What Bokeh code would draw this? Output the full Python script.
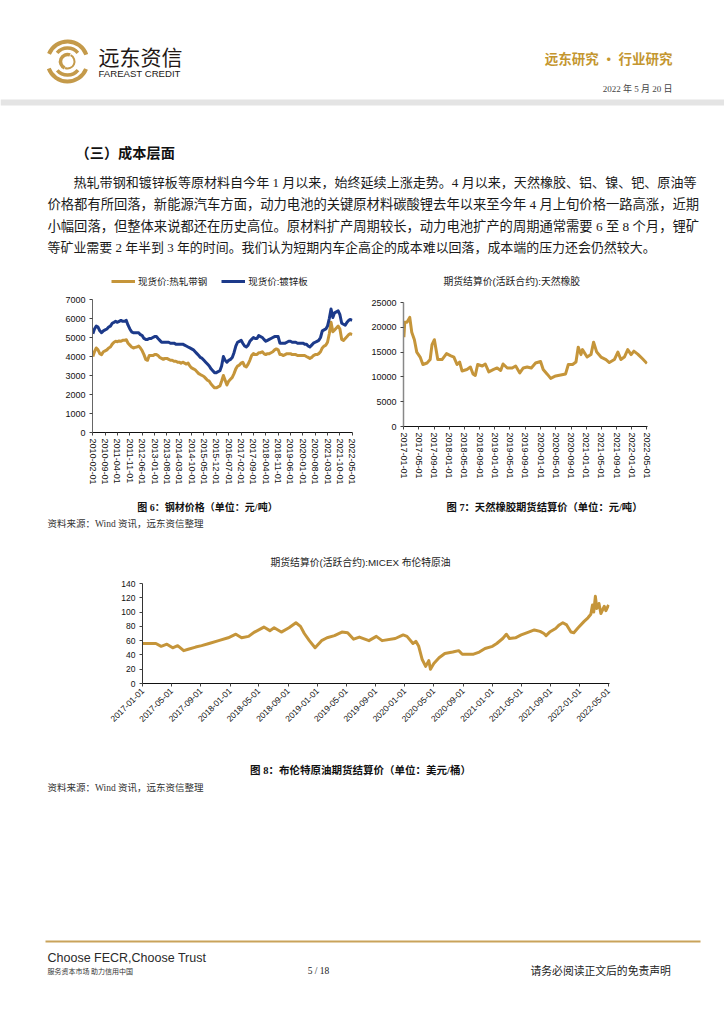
import math
import pandas as pd
from bokeh.plotting import figure
from bokeh.models import (Range1d, FixedTicker, DatetimeTickFormatter, Legend,
                          LegendItem, ColumnDataSource)
from bokeh.layouts import column, row
from bokeh.core.properties import value
from bokeh.embed import file_html
from bokeh.resources import INLINE

# ---------------- DATA ----------------
steel_start = "2010-02-01"   # monthly observations from this month
hrc_values = [
    4000, 4250, 4450, 4350, 4150, 4100, 4250, 4300, 4350, 4450, 4500,
    4650, 4750, 4800, 4780, 4820, 4800, 4850, 4850, 4880, 4700, 4600, 4500,
    4450, 4480, 4500, 4550, 4450, 4300, 4100, 3850, 3800, 4050, 4050, 4050,
    4100, 4100, 4050, 3950, 3900, 3850, 3900, 3900, 3850, 3800, 3800, 3750,
    3750, 3700, 3700, 3650, 3700, 3650, 3600, 3650, 3500, 3400, 3350, 3300,
    3200, 3100, 3050, 3000, 2950, 2850, 2750, 2700, 2550, 2450, 2350, 2350,
    2400, 2450, 2700, 3000, 2750, 2500, 2700, 2800, 2900, 3100, 3350, 3500,
    3550, 3650, 3700, 3500, 3450, 3600, 3800, 4050, 4150, 4100, 4100, 4200,
    4200, 4250, 4150, 4100, 4150, 4150, 4200, 4250, 4350, 4400, 4350, 4100,
    4100, 4050, 4100, 4150, 4150, 4150, 4100, 4100, 4100, 4050, 4050, 4050,
    4050, 4050, 4000, 3950, 3900, 3950, 4050, 4100, 4100, 4150, 4250, 4450,
    4550, 4600, 4750, 5200, 5800, 5300, 5400, 5500, 5600, 5450, 4900, 4850,
    4950, 5050, 5150, 5200, 5150]
galv_values = [
    5200, 5450, 5600, 5550, 5350, 5250, 5350, 5400, 5450, 5550, 5600,
    5750, 5800, 5850, 5800, 5850, 5900, 5850, 5850, 5900, 5650, 5450, 5300,
    5250, 5250, 5250, 5250, 5150, 5100, 4950, 4900, 4900, 4950, 4950, 5000,
    5050, 5050, 4950, 4850, 4750, 4750, 4750, 4750, 4750, 4700, 4700, 4700,
    4650, 4650, 4650, 4650, 4650, 4600, 4550, 4500, 4450, 4400, 4350, 4250,
    4150, 4050, 3950, 3900, 3800, 3700, 3600, 3500, 3350, 3250, 3150, 3150,
    3200, 3250, 3500, 4000, 3800, 3700, 3800, 3850, 3950, 4200, 4550, 4750,
    4800, 4850, 4700, 4550, 4500, 4600, 4800, 4900, 5000, 4950, 4950, 5100,
    5050, 5000, 4900, 4800, 4850, 4900, 4950, 5000, 5050, 5050, 5050, 4700,
    4700, 4700, 4700, 4750, 4800, 4800, 4750, 4750, 4750, 4700, 4700, 4700,
    4700, 4650, 4650, 4550, 4500, 4600, 4700, 4750, 4800, 4850, 5000, 5350,
    5400, 5450, 5600, 6000, 6500, 6050, 6300, 6350, 6400, 6200, 5750, 5700,
    5650, 5800, 5900, 5950, 5900]
steel_ticks = ["2010-02-01", "2010-09-01", "2011-04-01", "2011-11-01", "2012-06-01",
               "2013-01-01", "2013-08-01", "2014-03-01", "2014-10-01", "2015-05-01",
               "2015-12-01", "2016-07-01", "2017-02-01", "2017-09-01", "2018-04-01",
               "2018-11-01", "2019-06-01", "2020-01-01", "2020-08-01", "2021-03-01",
               "2021-10-01", "2022-05-01"]
steel_yticks = [0, 1000, 2000, 3000, 4000, 5000, 6000, 7000]
steel_labels = ["现货价:热轧带钢", "现货价:镀锌板"]

rubber_title = "期货结算价(活跃合约):天然橡胶"
rubber_dates = ["2017-01-03", "2017-01-10", "2017-01-28", "2017-02-19", "2017-03-07",
                "2017-03-28", "2017-04-16", "2017-05-13", "2017-06-04", "2017-07-07",
                "2017-08-01", "2017-08-16", "2017-09-04", "2017-10-01", "2017-11-04",
                "2017-12-10", "2018-01-10", "2018-02-07", "2018-03-04", "2018-03-25",
                "2018-04-13", "2018-05-22", "2018-06-19", "2018-07-10", "2018-07-28",
                "2018-08-16", "2018-09-22", "2018-10-16", "2018-11-13", "2018-12-22",
                "2019-01-19", "2019-02-16", "2019-03-07", "2019-04-10", "2019-05-19",
                "2019-06-16", "2019-07-19", "2019-08-16", "2019-09-16", "2019-10-19",
                "2019-11-22", "2020-01-01", "2020-01-22", "2020-02-25", "2020-03-22",
                "2020-05-01", "2020-06-10", "2020-07-19", "2020-08-10", "2020-09-13",
                "2020-10-10", "2020-10-28", "2020-11-19", "2020-12-01", "2021-01-07",
                "2021-02-07", "2021-02-28", "2021-03-25", "2021-04-28", "2021-06-07",
                "2021-07-04", "2021-08-13", "2021-09-10", "2021-10-04", "2021-11-01",
                "2021-11-28", "2021-12-25", "2022-01-16", "2022-02-16", "2022-03-28",
                "2022-05-01"]
rubber_values = [18000, 21000, 21000, 22000, 19000, 17500, 15000, 14000, 12500, 12800,
                 13500, 16500, 17500, 13500, 13500, 14700, 14300, 14000, 12500, 13000,
                 11200, 11500, 12000, 10600, 10300, 12500, 12200, 12600, 11000, 11500,
                 11800, 11300, 12600, 11800, 11800, 12200, 10800, 11800, 12000, 11800,
                 12800, 13100, 11500, 10500, 9700, 10200, 10400, 10600, 12500, 12500,
                 13000, 16000, 14500, 15500, 14000, 14500, 17000, 15000, 14000, 13500,
                 12900, 13500, 15000, 13500, 14000, 15500, 14500, 15200, 14600, 13600,
                 12700]
rubber_ticks = ["2017-01-01", "2017-05-01", "2017-09-01", "2018-01-01", "2018-05-01",
                "2018-09-01", "2019-01-01", "2019-05-01", "2019-09-01", "2020-01-01",
                "2020-05-01", "2020-09-01", "2021-01-01", "2021-05-01", "2021-09-01",
                "2022-01-01", "2022-05-01"]
rubber_yticks = [0, 5000, 10000, 15000, 20000, 25000]

brent_title = "期货结算价(活跃合约):MICEX 布伦特原油"
brent_dates = ["2017-01-01", "2017-02-25", "2017-03-19", "2017-04-12", "2017-05-06",
               "2017-05-27", "2017-06-21", "2017-07-10", "2017-08-10", "2017-09-04",
               "2017-10-05", "2017-11-14", "2017-12-24", "2018-01-25", "2018-02-18",
               "2018-03-19", "2018-04-13", "2018-05-22", "2018-06-16", "2018-07-04",
               "2018-08-03", "2018-09-04", "2018-10-03", "2018-10-22", "2018-11-07",
               "2018-11-28", "2018-12-22", "2019-01-18", "2019-02-10", "2019-03-13",
               "2019-04-13", "2019-05-07", "2019-06-01", "2019-06-25", "2019-08-04",
               "2019-09-04", "2019-09-28", "2019-11-22", "2019-12-25", "2020-01-10",
               "2020-02-04", "2020-02-16", "2020-02-28", "2020-03-13", "2020-03-28",
               "2020-04-10", "2020-04-17", "2020-05-01", "2020-05-23", "2020-06-16",
               "2020-07-19", "2020-08-13", "2020-08-28", "2020-10-14", "2020-11-07",
               "2020-12-01", "2021-01-01", "2021-01-19", "2021-02-13", "2021-02-28",
               "2021-03-13", "2021-04-07", "2021-05-01", "2021-06-01", "2021-06-25",
               "2021-07-19", "2021-08-04", "2021-08-13", "2021-08-28", "2021-09-22",
               "2021-10-07", "2021-10-22", "2021-11-07", "2021-11-25", "2021-12-07",
               "2021-12-25", "2022-01-19", "2022-02-04", "2022-02-16", "2022-02-23",
               "2022-02-28", "2022-03-07", "2022-03-13", "2022-03-22", "2022-03-30",
               "2022-04-13", "2022-04-20", "2022-05-01"]
brent_values = [56, 56, 52, 55, 50, 53, 46, 48, 51, 53,
                56, 60, 64, 69, 64, 66, 72, 79, 74, 78,
                72, 78, 85, 80, 70, 60, 50, 60, 64, 67,
                72, 71, 62, 65, 60, 66, 60, 63, 68, 66,
                56, 59, 52, 34, 24, 32, 20, 28, 36, 42,
                44, 46, 41, 41, 44, 49, 52, 56, 63, 69,
                63, 64, 68, 72, 75, 73, 70, 67, 72, 77,
                82, 85, 82, 72, 71, 78, 87, 92, 97, 110,
                100, 122, 105, 112, 98, 108, 102, 110]
brent_ticks = rubber_ticks
brent_yticks = [0, 20, 40, 60, 80, 100, 120, 140]

para_lines = [
    "热轧带钢和镀锌板等原材料自今年 1 月以来，始终延续上涨走势。4 月以来，天然橡胶、铝、镍、钯、原油等",
    "价格都有所回落，新能源汽车方面，动力电池的关键原材料碳酸锂去年以来至今年 4 月上旬价格一路高涨，近期",
    "小幅回落，但整体来说都还在历史高位。原材料扩产周期较长，动力电池扩产的周期通常需要 6 至 8 个月，锂矿",
    "等矿业需要 2 年半到 3 年的时间。我们认为短期内车企高企的成本难以回落，成本端的压力还会仍然较大。",
]

# ---------------- STYLE ----------------
GOLD = "#C5953A"
BLUE = "#1C3A8A"
LOGO_GOLD = "#C49A4A"
CJK = "Noto Sans CJK SC"
SANS = "'Liberation Sans', 'Noto Sans CJK SC'"
SERIF = "'Liberation Serif', 'Noto Sans CJK SC'"
PAGE_W = 724
NAN = float("nan")


def ms(s):
    return pd.Timestamp(s).value / 1e6


def put(f, x, y, s, size, font=CJK, color="#1a1a1a", bold=False, align="left"):
    f.text(x=[x], y=[y], text=[s], text_font=value(font),
           text_font_size=value(f"{size}px"),
           text_font_style="bold" if bold else "normal",
           text_color=color, text_align=align, text_baseline="middle")


def band(y0, y1, x0=0, x1=PAGE_W):
    f = figure(width=x1 - x0, height=y1 - y0, x_range=Range1d(x0, x1),
               y_range=Range1d(y1, y0), output_backend="svg",
               toolbar_location=None, tools="", min_border=0,
               x_axis_location=None, y_axis_location=None, frame_align=False)
    f.grid.visible = False
    f.outline_line_color = None
    f.background_fill_color = "white"
    f.border_fill_color = "white"
    return f


def fmt():
    s = "%Y-%m-%d"
    return DatetimeTickFormatter(milliseconds=s, seconds=s, minsec=s, minutes=s,
                                 hourmin=s, hours=s, days=s, months=s, years=s)


def style_chart(c, xticks, yticks, orient, fsize, ycolor, ywidth):
    c.grid.visible = False
    c.outline_line_color = None
    c.background_fill_color = "white"
    c.border_fill_color = "white"
    c.xaxis.ticker = FixedTicker(ticks=[ms(t) for t in xticks])
    c.xaxis.formatter = fmt()
    c.yaxis.ticker = FixedTicker(ticks=yticks)
    c.xaxis.major_label_orientation = orient
    for ax in c.axis:
        ax.major_tick_in = 0
        ax.major_tick_out = 3
        ax.minor_tick_in = 0
        ax.minor_tick_out = 0
        ax.major_label_text_font = SANS
        ax.major_label_text_font_size = f"{fsize}px"
        ax.major_label_text_color = "#111111"
        ax.major_tick_line_color = "#444444"
    c.xaxis.axis_line_color = "#111111"
    c.xaxis.major_label_standoff = 3
    c.yaxis.axis_line_color = ycolor
    c.yaxis.axis_line_width = ywidth
    c.yaxis.major_label_standoff = 4


# ---------------- BAND A: header + text ----------------
A = band(0, 268)
A.quad(left=[0], right=[PAGE_W], top=[99], bottom=[105], fill_color="#E4E4E4", line_color=None)
# logo
A.arc(x=[67], y=[61], radius=20, start_angle=0.35, end_angle=2.75, line_color=LOGO_GOLD, line_width=4)
A.arc(x=[67], y=[61], radius=20, start_angle=3.5, end_angle=5.9, line_color=LOGO_GOLD, line_width=4)
A.arc(x=[67], y=[61], radius=13.5, start_angle=0.7, end_angle=2.45, line_color=LOGO_GOLD, line_width=3.5)
A.arc(x=[67], y=[61], radius=13.5, start_angle=3.85, end_angle=5.6, line_color=LOGO_GOLD, line_width=3.5)
A.arc(x=[67], y=[61], radius=7, start_angle=1.2, end_angle=4.3, line_color=LOGO_GOLD, line_width=3.5)
A.arc(x=[67], y=[61], radius=7, start_angle=4.35, end_angle=7.4, line_color=LOGO_GOLD, line_width=2)
put(A, 98, 55, "远东资信", 21, CJK, "#231815")
put(A, 98, 73, "FAREAST CREDIT", 9.6, "'Liberation Sans'", "#231815")
put(A, 672, 57, "远东研究 • 行业研究", 13.5, CJK, "#C4962F", bold=True, align="right")
put(A, 672, 88, "2022 年 5 月 20 日", 9, SERIF, "#444444", align="right")
put(A, 75, 151, "（三）成本层面", 14.2, CJK, "#111111", bold=True)
para_x = [73, 47, 47, 47]
para_y = [182, 204, 226, 247]
para_size = [13.05, 13.3, 13.3, 12.95]
for s, x, y, z in zip(para_lines, para_x, para_y, para_size):
    put(A, x, y, s, z, SERIF, "#1a1a1a")

# ---------------- Chart 1: steel ----------------
steel_dates = pd.date_range(steel_start, periods=len(hrc_values), freq="MS")
src1 = ColumnDataSource(dict(d=steel_dates, hrc=hrc_values, galv=galv_values))
c1 = figure(width=362, height=205, x_axis_type="datetime",
            x_range=Range1d(ms("2010-01-26"), ms("2022-05-06")),
            y_range=Range1d(0, 7000), output_backend="svg",
            toolbar_location=None, tools="", frame_align=False,
            min_border_left=92, min_border_right=10,
            min_border_top=6, min_border_bottom=66)
c1.line("d", "hrc", source=src1, line_color=GOLD, line_width=3, line_join="round")
c1.line("d", "galv", source=src1, line_color=BLUE, line_width=3, line_join="round")
style_chart(c1, steel_ticks, steel_yticks, "vertical", 9, "#666666", 1)

# legend strip above chart 1 (a real legend with the same line styles)
L = band(268, 293, 0, 362)
lg1 = L.line(x=[NAN], y=[NAN], line_color=GOLD, line_width=3)
lg2 = L.line(x=[NAN], y=[NAN], line_color=BLUE, line_width=3)
leg = Legend(items=[LegendItem(label=steel_labels[0], renderers=[lg1]),
                    LegendItem(label=steel_labels[1], renderers=[lg2])],
             orientation="horizontal", location=(111, 5),
             label_text_font=SANS, label_text_font_size="9.5px",
             label_text_color="#222222", glyph_width=24, glyph_height=10,
             label_standoff=3, spacing=14, padding=2, margin=0,
             border_line_color=None, background_fill_alpha=0)
L.add_layout(leg)

# ---------------- Chart 2: rubber ----------------
T2 = band(268, 296, 362, PAGE_W)
put(T2, 443, 281, rubber_title, 9.8, SANS, "#222222")
src2 = ColumnDataSource(dict(d=pd.to_datetime(rubber_dates), v=rubber_values))
c2 = figure(width=362, height=202, x_axis_type="datetime",
            x_range=Range1d(ms("2016-12-31"), ms("2022-05-05")),
            y_range=Range1d(0, 25000), output_backend="svg",
            toolbar_location=None, tools="", frame_align=False,
            min_border_left=41, min_border_right=77,
            min_border_top=6, min_border_bottom=72)
c2.line("d", "v", source=src2, line_color=GOLD, line_width=3, line_join="round")
style_chart(c2, rubber_ticks, rubber_yticks, "vertical", 9, "#888888", 1.5)

# ---------------- BAND C: captions ----------------
C = band(498, 540)
put(C, 207, 507, "图 6：钢材价格（单位：元/吨）", 10, SERIF, "#111111", bold=True, align="center")
put(C, 544, 507, "图 7：天然橡胶期货结算价（单位：元/吨）", 10.3, SERIF, "#111111", bold=True, align="center")
put(C, 47, 523, "资料来源：Wind 资讯，远东资信整理", 9.5, SERIF, "#333333")

# ---------------- Chart 3: brent ----------------
T3 = band(540, 577)
put(T3, 270, 562, brent_title, 9.8, SANS, "#222222")
src3 = ColumnDataSource(dict(d=pd.to_datetime(brent_dates), v=brent_values))
c3 = figure(width=PAGE_W, height=173, x_axis_type="datetime",
            x_range=Range1d(ms("2016-12-31"), ms("2022-05-05")),
            y_range=Range1d(0, 140), output_backend="svg",
            toolbar_location=None, tools="", frame_align=False,
            min_border_left=142, min_border_right=115,
            min_border_top=6, min_border_bottom=67)
c3.line("d", "v", source=src3, line_color=GOLD, line_width=3, line_join="round")
style_chart(c3, brent_ticks, brent_yticks, math.pi / 4, 8.5, "#333333", 1)

# ---------------- BAND E ----------------
E = band(750, 800)
put(E, 360, 770, "图 8：布伦特原油期货结算价（单位：美元/桶）", 10.5, SERIF, "#111111", bold=True, align="center")
put(E, 47, 787, "资料来源：Wind 资讯，远东资信整理", 9.5, SERIF, "#333333")

# ---------------- BAND F: footer ----------------
F = band(800, 1024)
F.segment(x0=[45], y0=[941], x1=[700], y1=[941], line_color="#C9A35B", line_width=2)
put(F, 47, 957, "Choose FECR,Choose Trust", 12.5, "'Liberation Sans'", "#2a2a2a")
put(F, 47, 970, "服务资本市场 助力信用中国", 7, CJK, "#333333")
put(F, 318, 970, "5 / 18", 9.5, SERIF, "#222222", align="center")
put(F, 530, 970, "请务必阅读正文后的免责声明", 10.8, SERIF, "#222222")

left_col = column(L, c1, spacing=0)
right_col = column(T2, c2, spacing=0)
layout = column(A, row(left_col, right_col, spacing=0), C, T3, c3, E, F, spacing=0)
open("out.html", "w").write(file_html(layout, INLINE))
